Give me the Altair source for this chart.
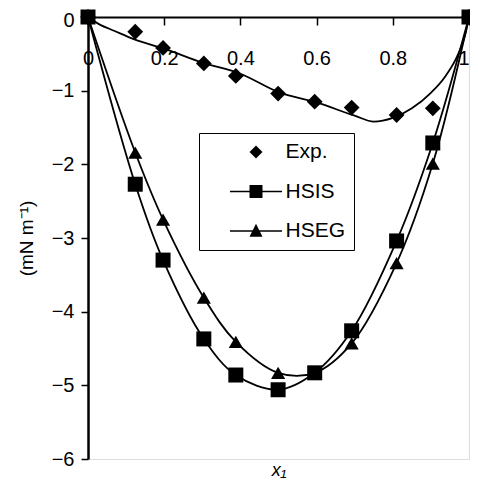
import altair as alt
import pandas as pd

# ---- data ----
series_names = ["Exp.", "HSIS", "HSEG"]
x_pts = [0.0, 0.124, 0.197, 0.304, 0.388, 0.499, 0.595, 0.692, 0.810, 0.905, 1.0]
exp_y = [0.0, -0.20, -0.42, -0.63, -0.80, -1.04, -1.15, -1.23, -1.33, -1.24, 0.0]
hsis_y = [0.0, -2.27, -3.30, -4.37, -4.86, -5.06, -4.83, -4.26, -3.04, -1.71, 0.0]
hseg_y = [0.0, -1.84, -2.75, -3.81, -4.41, -4.83, -4.83, -4.43, -3.34, -1.99, 0.0]

# smooth fit through the experimental data
fit_x = [0.0, 0.03, 0.07, 0.12, 0.2, 0.3, 0.4, 0.5, 0.6, 0.7, 0.75, 0.8, 0.85, 0.9, 0.94, 0.97, 0.99, 1.0]
fit_y = [0.0, -0.10, -0.19, -0.30, -0.43, -0.62, -0.77, -1.02, -1.16, -1.34, -1.42, -1.37, -1.24, -1.03, -0.79, -0.52, -0.24, 0.0]

x_ticks = [0, 0.2, 0.4, 0.6, 0.8, 1]
y_ticks = [0, -1, -2, -3, -4, -5, -6]

FONT = "Liberation Sans"
W, H = 381, 442

pts = pd.DataFrame(
    [{"x": a, "y": b, "series": "Exp."} for a, b in zip(x_pts, exp_y)]
    + [{"x": a, "y": b, "series": "HSEG"} for a, b in zip(x_pts, hseg_y)]
    + [{"x": a, "y": b, "series": "HSIS"} for a, b in zip(x_pts, hsis_y)]
)
model_lines = pts[pts.series != "Exp."]
fit = pd.DataFrame({"x": fit_x, "y": fit_y, "series": "fit"})

x_enc = alt.X(
    "x:Q",
    scale=alt.Scale(domain=[0, 1], nice=False, zero=False),
    axis=alt.Axis(
        orient="bottom", offset=-H, values=x_ticks, format="~g",
        tickSize=8, tickWidth=1.5, tickColor="black", labelFlush=False,
        labelAlign={"condition": {"test": "datum.value === 1", "value": "right"}, "value": "center"},
        labelPadding=23, labelFontSize=20, labelFont=FONT, labelColor="black",
        domainWidth=2, domainColor="black", grid=False,
        title="x₁", titleY=H + 2, titleBaseline="top", titleFontStyle="italic",
        titleFontSize=18, titleFontWeight="normal", titleFont=FONT, titleColor="black",
    ),
)
y_enc = alt.Y(
    "y:Q",
    scale=alt.Scale(domain=[-6, 0], nice=False, zero=False),
    axis=alt.Axis(
        values=y_ticks, format="d",
        tickSize=7, tickWidth=1.5, tickColor="black",
        labelOffset={"condition": {"test": "datum.value === 0", "value": 3}, "value": 0},
        labelPadding=7, labelFontSize=20, labelFont=FONT, labelColor="black",
        domainWidth=2.5, domainColor="black", grid=False,
        title="(mN m⁻¹)", titleX=-52, titleFontSize=19, titleFontWeight="normal",
        titleFont=FONT, titleColor="black",
    ),
)

fit_line = alt.Chart(fit).mark_line(
    color="black", strokeWidth=1.8, interpolate="monotone"
).encode(x=x_enc, y=y_enc)

model_line = alt.Chart(model_lines).mark_line(
    color="black", strokeWidth=1.8, interpolate="catmull-rom"
).encode(x=x_enc, y=y_enc, detail="series:N")

points = alt.Chart(pts).mark_point(filled=True, color="black", opacity=1).encode(
    x=x_enc, y=y_enc,
    shape=alt.Shape("series:N", scale=alt.Scale(domain=series_names,
                    range=["diamond", "square", "triangle-up"]), legend=None),
    size=alt.Size("series:N", scale=alt.Scale(domain=series_names,
                  range=[250, 200, 210]), legend=None),
    order=alt.Order("series:N", sort="ascending"),
)

# legend glyphs: marker alone, or marker on a short line (line drawn as a thin filled bar)
legend_paths = [
    "M-1,0L0,-1L1,0L0,1Z",
    "M-4,-0.13H4V0.13H-4ZM-1,-1H1V1H-1Z",
    "M-4,-0.13H4V0.13H-4ZM-1,0.87L0,-1.13L1,0.87Z",
]
legend_layer = alt.Chart(pts).transform_filter("datum.x > 5").mark_point(
    filled=True, color="black", opacity=1
).encode(
    x=x_enc, y=y_enc,
    shape=alt.Shape(
        "series:N",
        scale=alt.Scale(domain=series_names, range=legend_paths),
        legend=alt.Legend(
            orient="none", legendX=111, legendY=116, title=None,
            strokeColor="black", fillColor="white", padding=8.5,
            symbolOffset=38, labelOffset=19, rowPadding=17.5,
            symbolSize=169, symbolStrokeWidth=0, symbolFillColor="black",
            labelFontSize=21, labelFont=FONT, labelColor="black",
        ),
    ),
)

chart = alt.layer(fit_line, model_line, points, legend_layer).resolve_scale(
    shape="independent", size="independent"
).properties(
    width=W, height=H,
    autosize=alt.AutoSizeParams(type="none"),
    padding={"left": 80, "top": 9, "right": 1, "bottom": 20},
).configure_view(stroke="black", strokeWidth=1.5).configure(font=FONT)

chart.save("out.html", embed_options={"renderer": "svg", "actions": False})
